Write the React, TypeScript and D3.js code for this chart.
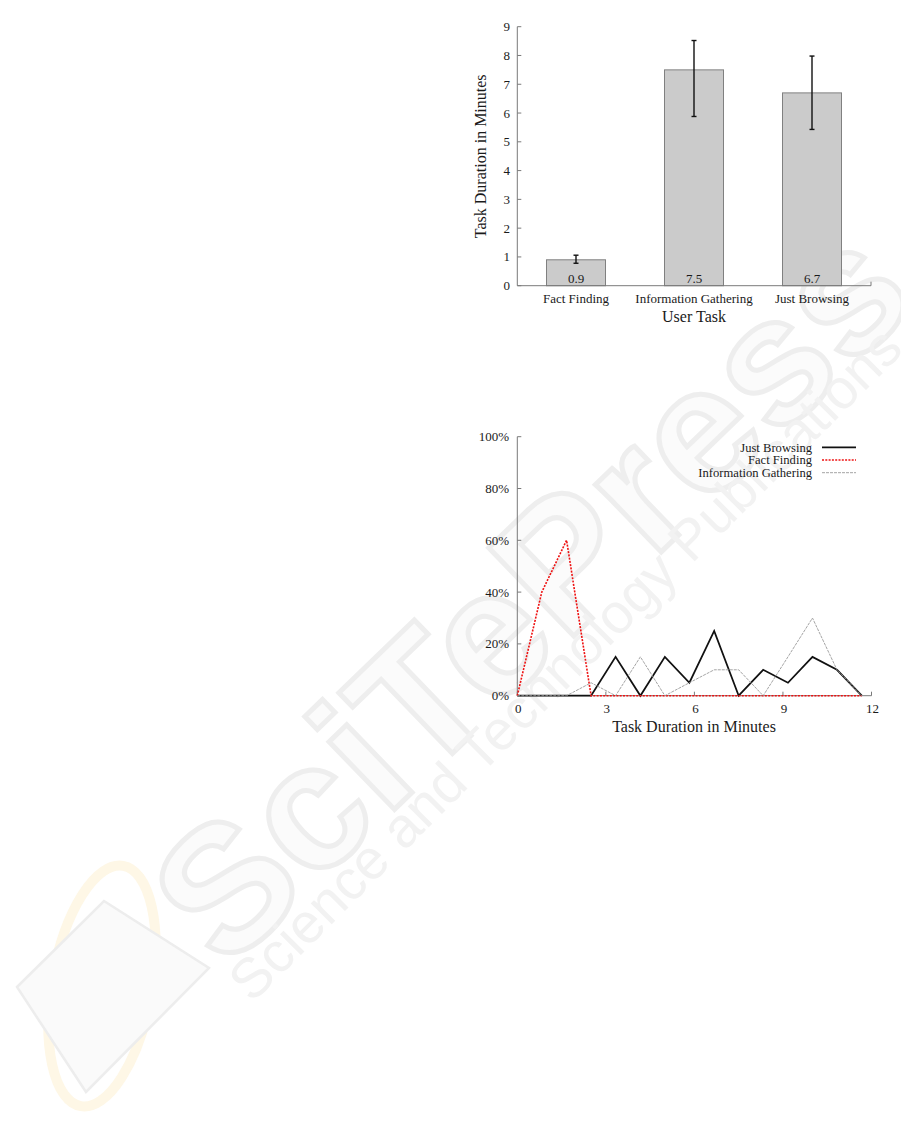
import React from "react";
import * as d3 from "d3";

// Mean task duration per user task (minutes) with error bar extents
const categories = ["Fact Finding", "Information Gathering", "Just Browsing"];
const meanDuration = [0.9, 7.5, 6.7];
const errLow = [0.78, 5.88, 5.43];
const errHigh = [1.06, 8.52, 7.98];
const durationTicks = [0, 1, 2, 3, 4, 5, 6, 7, 8, 9];

// Distribution of task durations (share of tasks per duration bin)
const minutes = [0, 0.83, 1.67, 2.5, 3.33, 4.17, 5, 5.83, 6.67, 7.5, 8.33, 9.17, 10, 10.83, 11.67];
const justBrowsing = [0, 0, 0, 0, 15, 0, 15, 5, 25, 0, 10, 5, 15, 10, 0];
const factFinding = [0, 40, 60, 0, 0, 0, 0, 0, 0, 0, 0, 0, 0, 0, 0];
const infoGathering = [0, 0, 0, 5, 0, 15, 0, 5, 10, 10, 0, 15, 30, 10, 0];
const minuteTicks = [0, 3, 6, 9, 12];
const percentTicks = [0, 20, 40, 60, 80, 100];

const seriesNames = ["Just Browsing", "Fact Finding", "Information Gathering"];
const seriesValues = [justBrowsing, factFinding, infoGathering];

const FONT = "'Liberation Serif', 'Times New Roman', serif";
const AXIS = "#7a7a7a";
const TEXT = "#1a1a1a";

const seriesStyle = [
  { stroke: "#111", width: 1.8, dash: "none" },
  { stroke: "#ee1111", width: 1.6, dash: "2,1.3" },
  { stroke: "#9a9a9a", width: 0.9, dash: "3,1" },
];

function Watermark() {
  return (
    <g pointerEvents="none">
      <g transform="translate(102,986) rotate(10)">
        <ellipse rx={50} ry={122} fill="none" stroke="#fef7e6" strokeWidth={10} />
      </g>
      <polygon
        points="104,901 209,968 86,1092 17,987"
        fill="#fafafa"
        stroke="#ededed"
        strokeWidth={2.5}
      />
      <text
        transform="translate(226,972) rotate(-44)"
        fontFamily="'Liberation Sans', Arial, sans-serif"
        fontWeight="bold"
        fontSize={178}
        fill="#fbfbfb"
        stroke="#eeeeee"
        strokeWidth={5}
        letterSpacing={2}
      >
        SciTePress
      </text>
      <text
        transform="translate(252,1004) rotate(-45)"
        fontFamily="'Liberation Sans', Arial, sans-serif"
        fontSize={56}
        fill="#f2f2f2"
      >
        Science and Technology Publications
      </text>
    </g>
  );
}

function BarChart() {
  const x = d3.scaleBand<string>().domain(categories).range([517, 871]).paddingInner(0.5).paddingOuter(0.25);
  const y = d3.scaleLinear().domain([0, 9]).range([285.7, 26.7]);
  const x0 = 517.3;
  const y0 = y(0);
  return (
    <g fontFamily={FONT}>
      {/* bars */}
      {categories.map((c, i) => (
        <rect
          key={c}
          x={x(c)!}
          y={y(meanDuration[i])}
          width={x.bandwidth()}
          height={y0 - y(meanDuration[i])}
          fill="#cbcbcb"
          stroke="#808080"
          strokeWidth={1}
        />
      ))}
      {/* error bars */}
      {categories.map((c, i) => {
        const cx = x(c)! + x.bandwidth() / 2;
        return (
          <g key={c + "-err"} stroke="#111" strokeWidth={1.4}>
            <line x1={cx} x2={cx} y1={y(errLow[i])} y2={y(errHigh[i])} />
            <line x1={cx - 2.5} x2={cx + 2.5} y1={y(errLow[i])} y2={y(errLow[i])} />
            <line x1={cx - 2.5} x2={cx + 2.5} y1={y(errHigh[i])} y2={y(errHigh[i])} />
          </g>
        );
      })}
      {/* value labels */}
      {categories.map((c, i) => (
        <text
          key={c + "-val"}
          x={x(c)! + x.bandwidth() / 2}
          y={y0 - 3}
          textAnchor="middle"
          fontSize={13}
          fill={TEXT}
        >
          {meanDuration[i].toFixed(1)}
        </text>
      ))}
      {/* axes */}
      <line x1={x0} x2={x0} y1={y(9)} y2={y0} stroke={AXIS} strokeWidth={1} />
      <line x1={x0} x2={871} y1={y0} y2={y0} stroke={AXIS} strokeWidth={1} />
      <line x1={871} x2={871} y1={y0} y2={y0 - 4} stroke={AXIS} strokeWidth={1} />
      {durationTicks.map((t) => (
        <g key={t}>
          <line x1={x0} x2={x0 + 4} y1={y(t)} y2={y(t)} stroke={AXIS} strokeWidth={1} />
          <text x={510} y={y(t) + 4.5} textAnchor="end" fontSize={13} fill={TEXT}>
            {t}
          </text>
        </g>
      ))}
      {categories.map((c) => (
        <text key={c + "-lbl"} x={x(c)! + x.bandwidth() / 2} y={302.5} textAnchor="middle" fontSize={13} fill={TEXT}>
          {c}
        </text>
      ))}
      <text x={694} y={322} textAnchor="middle" fontSize={16} fill={TEXT}>
        User Task
      </text>
      <text transform="translate(485.5,156.3) rotate(-90)" textAnchor="middle" fontSize={16} fill={TEXT}>
        Task Duration in Minutes
      </text>
    </g>
  );
}

function LineChart() {
  const x = d3.scaleLinear().domain([0, 12]).range([517.3, 871.5]);
  const y = d3.scaleLinear().domain([0, 100]).range([695.7, 436.7]);
  const line = d3
    .line<number>()
    .x((_, i) => x(minutes[i]))
    .y((d) => y(d));
  return (
    <g fontFamily={FONT}>
      {/* axes */}
      <line x1={x(0)} x2={x(0)} y1={y(100)} y2={y(0)} stroke={AXIS} strokeWidth={1} />
      <line x1={x(0)} x2={x(12)} y1={y(0)} y2={y(0)} stroke={AXIS} strokeWidth={1} />
      {percentTicks.map((t) => (
        <g key={t}>
          <line x1={x(0)} x2={x(0) + 4} y1={y(t)} y2={y(t)} stroke={AXIS} strokeWidth={1} />
          <text x={509} y={y(t) + 4.5} textAnchor="end" fontSize={13} fill={TEXT}>
            {t}%
          </text>
        </g>
      ))}
      {minuteTicks.map((t) => (
        <g key={t}>
          <line x1={x(t)} x2={x(t)} y1={y(0)} y2={y(0) - 4} stroke={AXIS} strokeWidth={1} />
          <text x={x(t) + 1} y={712.8} textAnchor="middle" fontSize={13} fill={TEXT}>
            {t}
          </text>
        </g>
      ))}
      {/* series */}
      {seriesValues.map((vals, k) => (
        <path
          key={seriesNames[k]}
          d={line(vals) ?? ""}
          fill="none"
          stroke={seriesStyle[k].stroke}
          strokeWidth={seriesStyle[k].width}
          strokeDasharray={seriesStyle[k].dash}
          strokeLinejoin="miter"
        />
      ))}
      {/* legend */}
      {seriesNames.map((n, k) => {
        const ly = 447.3 + k * 12.7;
        return (
          <g key={n + "-leg"}>
            <text x={812} y={ly + 4.3} textAnchor="end" fontSize={12.6} fill={TEXT}>
              {n}
            </text>
            <line
              x1={822}
              x2={856}
              y1={ly}
              y2={ly}
              stroke={seriesStyle[k].stroke}
              strokeWidth={seriesStyle[k].width}
              strokeDasharray={seriesStyle[k].dash}
            />
          </g>
        );
      })}
      <text x={694} y={732} textAnchor="middle" fontSize={16} fill={TEXT}>
        Task Duration in Minutes
      </text>
    </g>
  );
}

export default function App() {
  return (
    <svg
      width={901}
      height={1141}
      viewBox="0 0 901 1141"
      style={{ position: "absolute", left: 0, top: 0, background: "#fff" }}
    >
      <rect width={901} height={1141} fill="#fff" />
      <Watermark />
      <BarChart />
      <LineChart />
    </svg>
  );
}
